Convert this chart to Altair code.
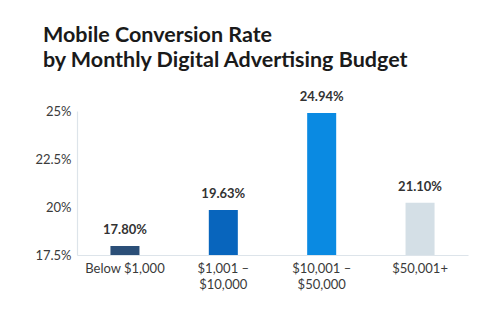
import altair as alt
import pandas as pd

categories = ["Below $1,000", "$1,001 –\n$10,000", "$10,001 –\n$50,000", "$50,001+"]
rate_labels = [17.80, 19.63, 24.94, 21.10]
bar_tops = [17.97, 19.84, 24.90, 20.22]
colors = ["#2b4f78", "#0865bd", "#0a8ae2", "#d4dfe6"]
y_ticks = [17.5, 20, 22.5, 25]

df = pd.DataFrame({
    "cat": categories,
    "bar": bar_tops,
    "label": [f"{v:.2f}%" for v in rate_labels],
    "color": colors,
})

FONT = "Lato"

x = alt.X("cat:N", sort=categories, title=None,
          scale=alt.Scale(paddingInner=0.705, paddingOuter=0.34),
          axis=alt.Axis(labelExpr="split(datum.label, '\\n')", labelAngle=0,
                        labelFontSize=13, labelColor="#3a3a3a", labelFont=FONT,
                        labelLineHeight=16, labelPadding=7, ticks=False,
                        domainColor="#dde4ea", domainWidth=1.2))
y = alt.Y("bar:Q", title=None,
          scale=alt.Scale(domain=[17.5, 25], zero=False, nice=False),
          axis=alt.Axis(values=y_ticks, labelExpr="datum.value + '%'", ticks=False,
                        grid=False, labelFontSize=13, labelColor="#3a3a3a",
                        labelFont=FONT, labelPadding=6,
                        domainColor="#dde4ea", domainWidth=1.2))

bars = alt.Chart(df).mark_bar().encode(
    x=x, y=y, y2=alt.datum(17.5), color=alt.Color("color:N", scale=None))
texts = alt.Chart(df).mark_text(dy=-9, baseline="bottom", fontSize=13,
                                fontWeight="bold", font=FONT, color="#333333").encode(
    x=alt.X("cat:N", sort=categories), y="bar:Q", text="label:N")

chart = (bars + texts).properties(
    width=391, height=144,
    title=alt.TitleParams(
        ["Mobile Conversion Rate", "by Monthly Digital Advertising Budget"],
        anchor="start", font=FONT, fontSize=21.5, fontWeight="bold",
        color="#1a1a1a", lineHeight=25, dx=8, offset=19),
    autosize=alt.AutoSizeParams(type="none"),
    padding={"left": 77, "top": 111, "right": 25, "bottom": 68},
).configure_view(stroke=None)

chart.save("out.html", embed_options={"renderer": "svg", "actions": False})
